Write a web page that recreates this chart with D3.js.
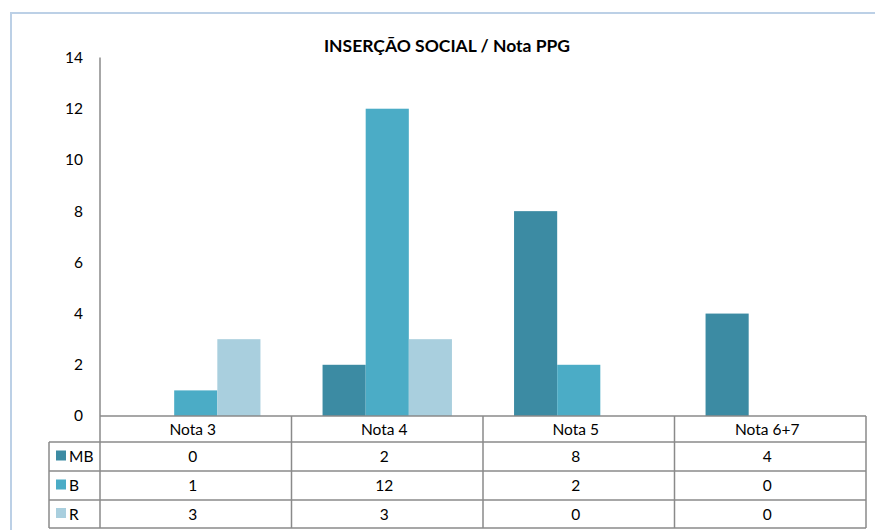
<!DOCTYPE html>
<html><head><meta charset="utf-8">
<script src="https://cdn.jsdelivr.net/npm/d3@7"></script>
<style>body{margin:0;background:#fff}svg{display:block;font-family:Lato,"Open Sans",sans-serif}</style>
</head><body>
<script>
const title = "INSERÇÃO SOCIAL / Nota PPG";
const categories = ["Nota 3", "Nota 4", "Nota 5", "Nota 6+7"];
const seriesNames = ["MB", "B", "R"];
const valuesMB = [0, 2, 8, 4];
const valuesB = [1, 12, 2, 0];
const valuesR = [3, 3, 0, 0];
const colors = ["#3C8BA3", "#4BACC6", "#A9CFDE"];
const yTicks = [0, 2, 4, 6, 8, 10, 12, 14];

(function () {
const series = [valuesMB, valuesB, valuesR];
const W = 875, H = 530;
const fs = 15.5;
const svg = d3.select("body").append("svg").attr("width", W).attr("height", H);

// frame
svg.append("path").attr("d", "M11,530 L11,13 L875,13").attr("fill", "none")
  .attr("stroke", "#BCD0E6").attr("stroke-width", 2);

const pLeft = 100, pRight = 866, pTop = 57.5, pBottom = 416;
const x = d3.scaleBand().domain(categories).range([pLeft, pRight]).paddingInner(0).paddingOuter(0);
const x1 = d3.scaleBand().domain(seriesNames).range([0, x.bandwidth()]).paddingInner(0).paddingOuter(0.72);
const y = d3.scaleLinear().domain([0, 14]).range([pBottom, pTop]);

svg.append("text").attr("x", 447).attr("y", 52).attr("text-anchor", "middle")
  .attr("font-weight", "bold").attr("font-size", 17.5).attr("fill", "#000").text(title);

// bars
categories.forEach((c, i) => {
  series.forEach((vals, s) => {
    const v = vals[i];
    if (v <= 0) return;
    svg.append("rect").attr("x", x(c) + x1(seriesNames[s])).attr("width", x1.bandwidth())
      .attr("y", y(v)).attr("height", y(0) - y(v)).attr("fill", colors[s]);
  });
});

// y axis
const yAxis = d3.axisLeft(y).tickValues(yTicks).tickSize(0).tickPadding(17);
const ga = svg.append("g").attr("transform", `translate(${pLeft},0)`).call(yAxis);
ga.select(".domain").remove();
ga.selectAll("text").attr("font-size", fs).attr("fill", "#000").attr("font-family", "Lato,'Open Sans',sans-serif");

const lineColor = "#8A8A8A";
// table
const rowH = [pBottom, 442, 471, 500, 528];
const tableLeft = 49;
const g = svg.append("g").attr("stroke", lineColor).attr("stroke-width", 1.5).attr("fill", "none");
g.append("line").attr("x1", pLeft).attr("x2", pLeft).attr("y1", pTop).attr("y2", rowH[4]);
g.append("line").attr("x1", pLeft).attr("x2", pRight).attr("y1", rowH[0]).attr("y2", rowH[0]);
for (let r = 1; r < rowH.length; r++) {
  g.append("line").attr("x1", tableLeft).attr("x2", pRight).attr("y1", rowH[r]).attr("y2", rowH[r]);
}
g.append("line").attr("x1", tableLeft).attr("x2", tableLeft).attr("y1", rowH[1]).attr("y2", rowH[4]);
categories.forEach(c => {
  const xe = x(c) + x.bandwidth();
  g.append("line").attr("x1", xe).attr("x2", xe).attr("y1", rowH[0]).attr("y2", rowH[4]);
});

// header labels
categories.forEach(c => {
  svg.append("text").attr("x", x(c) + x.bandwidth() / 2 - 3).attr("y", (rowH[0] + rowH[1]) / 2 + 5.5)
    .attr("text-anchor", "middle").attr("font-size", fs).attr("fill", "#000").text(c);
});
// rows
seriesNames.forEach((s, r) => {
  const cy = (rowH[r + 1] + rowH[r + 2]) / 2;
  svg.append("rect").attr("x", 56).attr("y", cy - 6).attr("width", 10).attr("height", 10).attr("fill", colors[r]);
  svg.append("text").attr("x", 69).attr("y", cy + 5.5).attr("font-size", fs).attr("fill", "#000").text(s);
  categories.forEach((c, i) => {
    svg.append("text").attr("x", x(c) + x.bandwidth() / 2 - 3).attr("y", cy + 5.5)
      .attr("text-anchor", "middle").attr("font-size", fs).attr("fill", "#000").text(series[r][i]);
  });
});
})();
</script>
</body></html>
